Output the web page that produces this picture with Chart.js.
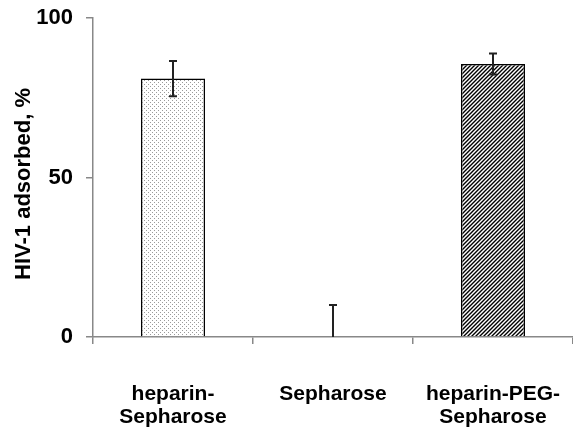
<!DOCTYPE html>
<html>
<head>
<meta charset="utf-8">
<script src="https://cdn.jsdelivr.net/npm/chart.js@4"></script>
<style>
  html, body { margin: 0; padding: 0; background: #fff; }
  #wrap { width: 573px; height: 441px; }
</style>
</head>
<body>
<div id="wrap"><canvas id="myChart" width="573" height="441"></canvas></div>
<script>
// data
const categories = [['heparin-', 'Sepharose'], 'Sepharose', ['heparin-PEG-', 'Sepharose']];
const values = [81, 0, 85.6];
const errors = [5.5, 10, 3.3];
const yTicks = [0, 50, 100];
const yTitle = 'HIV-1 adsorbed, %';

function dotPattern() {
  const c = document.createElement('canvas');
  c.width = 4; c.height = 4;
  const g = c.getContext('2d');
  g.fillStyle = '#fff';
  g.fillRect(0, 0, 4, 4);
  g.fillStyle = '#9a9a9a';
  g.fillRect(0, 0, 1, 1);
  g.fillRect(2, 2, 1, 1);
  return g.createPattern(c, 'repeat');
}

function hatchPattern() {
  const c = document.createElement('canvas');
  c.width = 4; c.height = 4;
  const g = c.getContext('2d');
  g.fillStyle = '#fff';
  g.fillRect(0, 0, 4, 4);
  g.strokeStyle = '#000';
  g.lineWidth = 1.4;
  g.beginPath();
  g.moveTo(-1, 5); g.lineTo(5, -1);
  g.moveTo(-1, 1); g.lineTo(1, -1);
  g.moveTo(3, 5); g.lineTo(5, 3);
  g.stroke();
  return g.createPattern(c, 'repeat');
}

const family = '"Liberation Sans", Arial, sans-serif';

const errorBars = {
  id: 'errorBars',
  afterDatasetsDraw(chart) {
    const ctx = chart.ctx;
    const xs = chart.scales.x, ys = chart.scales.y;
    ctx.save();
    ctx.strokeStyle = '#222';
    ctx.lineWidth = 2;
    values.forEach((v, i) => {
      const x = xs.getPixelForValue(i);
      const top = ys.getPixelForValue(v + errors[i]);
      const lo = Math.max(0, v - errors[i]);
      const bot = ys.getPixelForValue(lo);
      ctx.beginPath();
      ctx.moveTo(x, top); ctx.lineTo(x, bot);
      ctx.moveTo(x - 4, top); ctx.lineTo(x + 4, top);
      if (lo > 0) { ctx.moveTo(x - 4, bot); ctx.lineTo(x + 4, bot); }
      ctx.stroke();
    });
    ctx.restore();
  }
};

// y axis title, sits a bit below the middle of the axis like in the original
const yTitlePlugin = {
  id: 'yTitle',
  afterDraw(chart) {
    const ctx = chart.ctx;
    ctx.save();
    ctx.translate(24, 184);
    ctx.rotate(-Math.PI / 2);
    ctx.font = 'bold 22px ' + family;
    ctx.fillStyle = '#000';
    ctx.textAlign = 'center';
    ctx.textBaseline = 'middle';
    ctx.fillText(yTitle, 0, 0);
    ctx.restore();
  }
};

const data = {
  labels: categories,
  datasets: [{
    data: values,
    backgroundColor: [dotPattern(), '#fff', hatchPattern()],
    borderColor: '#000',
    borderWidth: 1.5,
    barPercentage: 0.4,
    categoryPercentage: 1.0
  }]
};

const config = {
  type: 'bar',
  data: data,
  options: {
    responsive: false,
    animation: false,
    layout: { padding: { top: 18, right: 0, left: 0, bottom: 0 } },
    plugins: { legend: { display: false }, tooltip: { enabled: false } },
    scales: {
      x: {
        offset: true,
        grid: { display: true, drawOnChartArea: false, offset: true, color: '#888', tickLength: 7, lineWidth: 1.5 },
        border: { color: '#888', width: 1.5 },
        ticks: { color: '#000', font: { family, size: 21, weight: 'bold', lineHeight: 1.08 }, padding: 39, maxRotation: 0, autoSkip: false },
        afterFit(s) { s.height = 104; s.paddingLeft = 0; s.paddingRight = 0; }
      },
      y: {
        min: 0, max: 100,
        afterBuildTicks(s) { s.ticks = yTicks.map(v => ({ value: v })); },
        grid: { display: true, drawOnChartArea: false, color: '#888', tickLength: 7, lineWidth: 1.5 },
        border: { color: '#888', width: 1.5 },
        ticks: { color: '#000', font: { family, size: 22, weight: 'bold' }, padding: 13 },
        afterFit(s) { s.width = 93; s.paddingTop = 0; s.paddingBottom = 0; }
      }
    }
  },
  plugins: [errorBars, yTitlePlugin]
};

const ctx = document.getElementById('myChart').getContext('2d');
const myChart = new Chart(ctx, config);
</script>
</body>
</html>
